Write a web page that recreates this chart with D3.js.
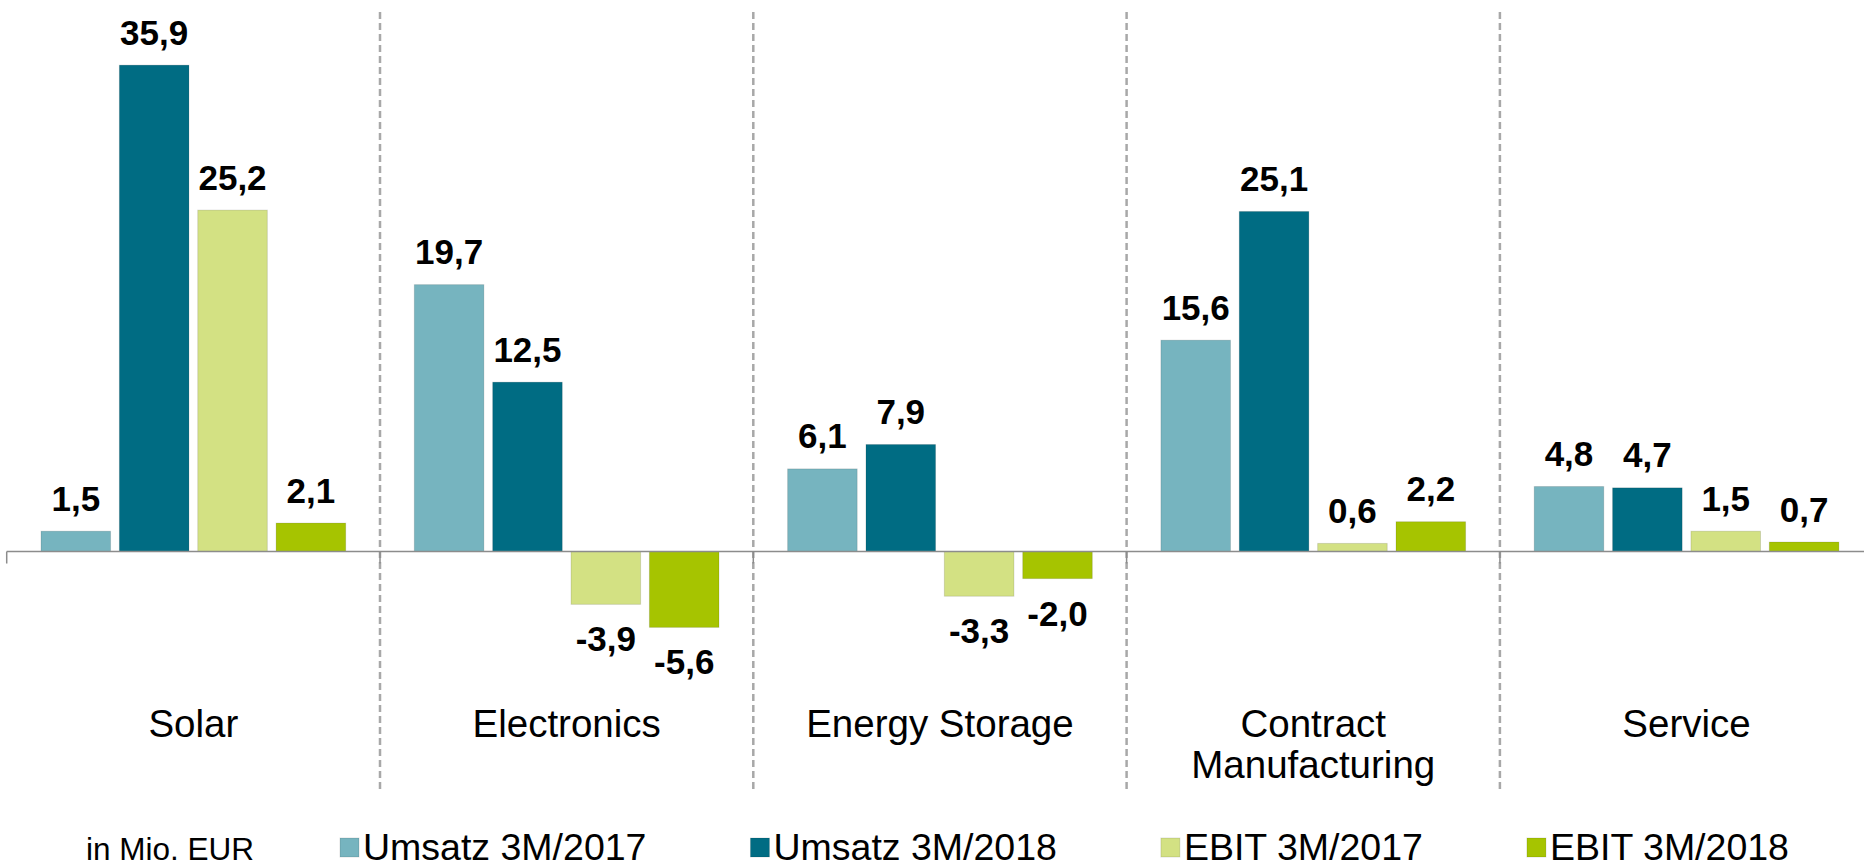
<!DOCTYPE html>
<html>
<head>
<meta charset="utf-8">
<script src="https://cdn.jsdelivr.net/npm/d3@7"></script>
<style>
  html, body { margin: 0; padding: 0; background: #fff; }
  svg { display: block; font-family: "Liberation Sans", Arial, sans-serif; }
</style>
</head>
<body>
<div id="chart"></div>
<script>
const categories = ["Solar", "Electronics", "Energy Storage", "Contract Manufacturing", "Service"];
const categoryLines = [["Solar"], ["Electronics"], ["Energy Storage"], ["Contract", "Manufacturing"], ["Service"]];
const seriesNames = ["Umsatz 3M/2017", "Umsatz 3M/2018", "EBIT 3M/2017", "EBIT 3M/2018"];
const umsatz2017 = [1.5, 19.7, 6.1, 15.6, 4.8];
const umsatz2018 = [35.9, 12.5, 7.9, 25.1, 4.7];
const ebit2017 = [25.2, -3.9, -3.3, 0.6, 1.5];
const ebit2018 = [2.1, -5.6, -2.0, 2.2, 0.7];
const seriesColors = ["#76b4bf", "#006c83", "#d3e183", "#a6c400"];
const unitLabel = "in Mio. EUR";

const width = 1864;
const height = 861;
const bandStart = 6.7;
const bandWidth = 373.3;

const seriesValues = [umsatz2017, umsatz2018, ebit2017, ebit2018];
const fmt = (v) => v.toFixed(1).replace(".", ",");

const svg = d3
  .create("svg")
  .attr("viewBox", [0, 0, width, height])
  .attr("width", width)
  .attr("height", height);

const x0 = d3
  .scaleBand()
  .domain(categories)
  .range([bandStart, bandStart + bandWidth * categories.length]);

const x1 = d3
  .scaleBand()
  .domain(seriesNames)
  .range([34.3, bandWidth - 34.3])
  .paddingInner(0.112);

const y = d3.scaleLinear().domain([-10, 40]).range([687, 9.6]);

// Dashed separators between categories
svg
  .append("g")
  .selectAll("line")
  .data(categories.slice(1))
  .join("line")
  .attr("x1", (d) => x0(d))
  .attr("x2", (d) => x0(d))
  .attr("y1", 12)
  .attr("y2", 790)
  .attr("stroke", "#a8a8a8")
  .attr("stroke-width", 2.5)
  .attr("stroke-dasharray", "7,4");

// Bars
const bars = categories.flatMap((cat, i) =>
  seriesNames.map((s, j) => ({ cat, series: s, value: seriesValues[j][i], color: seriesColors[j] }))
);

svg
  .append("g")
  .selectAll("rect")
  .data(bars)
  .join("rect")
  .attr("x", (d) => x0(d.cat) + x1(d.series))
  .attr("y", (d) => y(Math.max(0, d.value)))
  .attr("width", x1.bandwidth())
  .attr("height", (d) => Math.abs(y(d.value) - y(0)))
  .attr("fill", (d) => d.color)
  .attr("stroke", "rgba(0,0,0,0.12)")
  .attr("stroke-width", 1);

// Zero axis
svg
  .append("line")
  .attr("x1", bandStart)
  .attr("x2", width)
  .attr("y1", y(0))
  .attr("y2", y(0))
  .attr("stroke", "#8c8c8c")
  .attr("stroke-width", 1.5);

svg
  .append("g")
  .selectAll("line")
  .data(categories)
  .join("line")
  .attr("x1", (d) => x0(d))
  .attr("x2", (d) => x0(d))
  .attr("y1", y(0))
  .attr("y2", y(0) + 12)
  .attr("stroke", "#8c8c8c")
  .attr("stroke-width", 1.5);

// Value labels
svg
  .append("g")
  .selectAll("text")
  .data(bars)
  .join("text")
  .attr("x", (d) => x0(d.cat) + x1(d.series) + x1.bandwidth() / 2)
  .attr("y", (d) => (d.value >= 0 ? y(d.value) - 20.5 : y(d.value) + 47))
  .attr("text-anchor", "middle")
  .attr("font-size", 35)
  .attr("font-weight", "bold")
  .attr("fill", "#000")
  .text((d) => fmt(d.value));

// Category labels
const catLabels = svg
  .append("g")
  .selectAll("text")
  .data(categories)
  .join("text")
  .attr("x", (d) => x0(d) + bandWidth / 2)
  .attr("y", 736.5)
  .attr("text-anchor", "middle")
  .attr("font-size", 38.5)
  .attr("fill", "#000");

catLabels
  .selectAll("tspan")
  .data((d, i) => categoryLines[i])
  .join("tspan")
  .attr("x", function () { return this.parentNode.getAttribute("x"); })
  .attr("dy", (d, i) => (i === 0 ? 0 : 41.5))
  .text((d) => d);

// Legend
svg
  .append("text")
  .attr("x", 86)
  .attr("y", 860)
  .attr("font-size", 31.5)
  .attr("fill", "#000")
  .text(unitLabel);

d3.select("#chart").append(() => svg.node());

let legendX = 340;
seriesNames.forEach((name, i) => {
  const g = svg.append("g");
  g.append("rect")
    .attr("x", legendX)
    .attr("y", 838)
    .attr("width", 19)
    .attr("height", 19)
    .attr("fill", seriesColors[i])
    .attr("stroke", "rgba(0,0,0,0.12)");
  const t = g
    .append("text")
    .attr("x", legendX + 23)
    .attr("y", 860)
    .attr("font-size", 37.5)
    .attr("fill", "#000")
    .text(name);
  legendX += 23 + t.node().getComputedTextLength() + 104;
});
</script>
</body>
</html>
